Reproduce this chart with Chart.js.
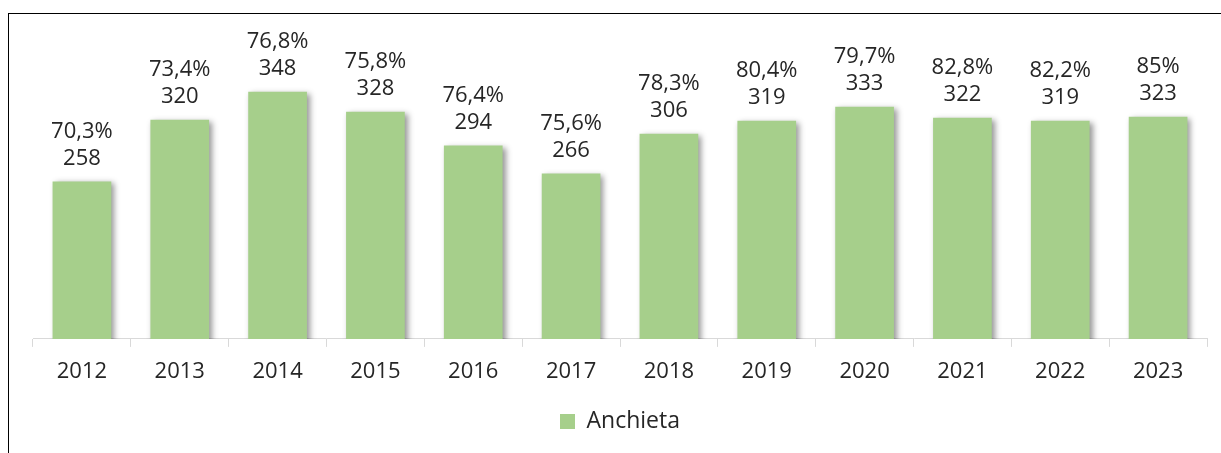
<!DOCTYPE html>
<html>
<head>
<meta charset="utf-8">
<script src="https://cdn.jsdelivr.net/npm/chart.js@4"></script>
<style>
  html, body { margin: 0; padding: 0; background: #fff; overflow: hidden; }
  #wrap { position: relative; width: 1221px; height: 453px; }
  #frame { position: absolute; left: 8px; top: 13px; right: 0; bottom: 0; border-top: 1px solid #000; border-left: 1px solid #000; }
  canvas { position: absolute; left: 0; top: 0; }
</style>
</head>
<body>
<div id="wrap">
  <div id="frame"></div>
  <canvas id="c" width="1221" height="453"></canvas>
</div>
<script>
const years = ['2012','2013','2014','2015','2016','2017','2018','2019','2020','2021','2022','2023'];
const counts = [258, 320, 348, 328, 294, 266, 306, 319, 333, 322, 319, 323];
const percents = [70.3, 73.4, 76.8, 75.8, 76.4, 75.6, 78.3, 80.4, 79.7, 82.8, 82.2, 85];
const seriesName = 'Anchieta';

const FONT = 'Open Sans';
const TEXT = '#262626';

const shadowPlugin = {
  id: 'barShadow',
  beforeDatasetsDraw(chart) {
    const ctx = chart.ctx;
    ctx.save();
    ctx.shadowColor = 'rgba(0,0,0,0.42)';
    ctx.shadowBlur = 6;
    ctx.shadowOffsetX = 3;
    ctx.shadowOffsetY = 2;
  },
  afterDatasetsDraw(chart) {
    chart.ctx.restore();
  }
};

const labelPlugin = {
  id: 'twoLineLabels',
  afterDraw(chart) {
    const ctx = chart.ctx;
    const meta = chart.getDatasetMeta(0);
    ctx.save();
    ctx.fillStyle = TEXT;
    ctx.font = '22px "' + FONT + '"';
    ctx.textAlign = 'center';
    ctx.textBaseline = 'middle';
    meta.data.forEach((bar, i) => {
      const pct = String(percents[i]).replace('.', ',') + '%';
      ctx.fillText(String(counts[i]), bar.x, bar.y - 23);
      ctx.fillText(pct, bar.x, bar.y - 50);
    });
    ctx.restore();
  }
};

new Chart(document.getElementById('c'), {
  type: 'bar',
  data: {
    labels: years,
    datasets: [{
      label: seriesName,
      data: counts,
      backgroundColor: '#A6CF8B',
      borderWidth: 0,
      barPercentage: 0.6,
      categoryPercentage: 1.0
    }]
  },
  options: {
    responsive: false,
    animation: false,
    devicePixelRatio: 1,
    layout: { padding: { top: 40, left: 33, right: 14, bottom: 10 } },
    scales: {
      y: { display: false, min: 100, max: 400 },
      x: {
        grid: { drawOnChartArea: false, drawTicks: true, tickLength: 8, color: '#D9D9D9', offset: true },
        border: { color: '#D9D9D9', width: 1 },
        ticks: { color: TEXT, font: { family: FONT, size: 22 }, padding: 12 },
        afterFit(scale) { scale.height += 2.7; }
      }
    },
    plugins: {
      legend: {
        position: 'bottom',
        labels: {
          color: TEXT,
          font: { family: FONT, size: 23 },
          boxWidth: 15,
          boxHeight: 15,
          padding: 10
        }
      },
      tooltip: { enabled: false }
    }
  },
  plugins: [shadowPlugin, labelPlugin]
});
</script>
</body>
</html>
